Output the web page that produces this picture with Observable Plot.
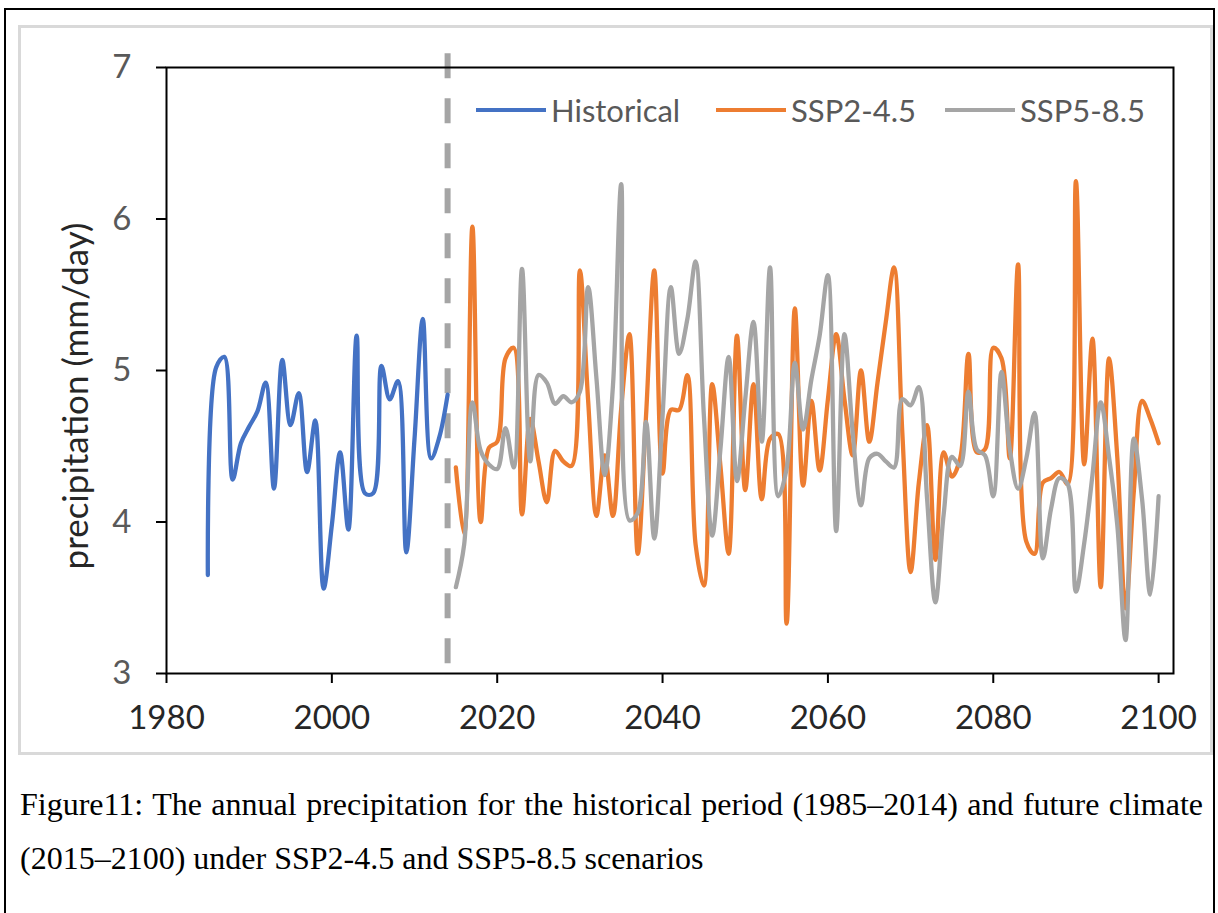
<!DOCTYPE html>
<html>
<head>
<meta charset="utf-8">
<script src="https://cdn.jsdelivr.net/npm/d3@7"></script>
<script src="https://cdn.jsdelivr.net/npm/@observablehq/plot@0.6"></script>
<style>
  body { margin: 0; background: #fff; width: 1218px; height: 913px; overflow: hidden; position: relative; font-family: Lato, "Open Sans", sans-serif; }
  #outer { position: absolute; left: 4px; top: 8px; width: 1207px; height: 1000px; border: 2px solid #000; }
  #box { position: absolute; left: 18px; top: 25px; width: 1189px; height: 724px; border: 3px solid #d9d9d9; }
  #chart { position: absolute; left: 0; top: 0; }
  #chart svg { overflow: visible; background: transparent; }
  #ytitle { position: absolute; left: 74px; top: 396px; transform: translate(-50%, -50%) rotate(-90deg); white-space: nowrap; font-size: 35px; color: #262626; }
  .item { position: absolute; top: 92px; height: 36px; display: flex; align-items: center; font-size: 31px; color: #595959; white-space: nowrap; }
  .swatch { width: 70px; height: 4px; margin-right: 5px; }
  .caption { position: absolute; left: 20px; width: 1183px; font-family: "Liberation Serif", "Times New Roman", serif; font-size: 32px; line-height: 54px; color: #000; }
  #cap1 { top: 777px; text-align: justify; text-align-last: justify; }
  #cap2 { top: 831px; }
</style>
</head>
<body>
<div id="outer"></div>
<div id="box"></div>
<div id="chart"></div>
<div id="ytitle">precipitation (mm/day)</div>
<div id="legend"></div>
<div class="caption" id="cap1">Figure11: The annual precipitation for the historical period (1985–2014) and future climate</div>
<div class="caption" id="cap2">(2015–2100) under SSP2-4.5 and SSP5-8.5 scenarios</div>
<script>
// Annual precipitation (mm/day)
const histYears = d3.range(1985, 2015);
const futureYears = d3.range(2015, 2101);

const historical = [
  3.65, 5.02, 5.09, 4.28, 4.52, 4.63, 4.73, 4.92, 4.22, 5.07,
  4.64, 4.85, 4.33, 4.67, 3.56, 3.98, 4.46, 3.95, 5.23, 4.19,
  4.19, 5.03, 4.81, 4.93, 3.80, 4.55, 5.34, 4.42, 4.56, 4.84
];

const ssp245 = [
  4.36, 3.92, 5.95, 4.00, 4.49, 4.53, 5.08, 5.15, 4.05, 4.68,
  4.40, 4.13, 4.47, 4.40, 4.37, 5.66, 4.80, 4.04, 4.44, 4.04,
  4.75, 5.24, 3.79, 4.70, 5.66, 4.32, 4.74, 4.74, 4.97, 3.85,
  3.58, 4.91, 4.37, 3.79, 5.23, 4.21, 4.91, 4.15, 4.55, 4.58,
  3.33, 5.41, 4.24, 4.80, 4.34, 4.81, 5.24, 4.81, 4.44, 5.00,
  4.53, 4.92, 5.32, 5.68, 4.59, 3.67, 4.26, 4.64, 3.75, 4.46,
  4.30, 4.42, 5.11, 4.46, 4.48, 5.15, 5.08, 4.42, 5.70, 3.87,
  3.79, 4.26, 4.29, 4.33, 4.25, 6.25, 4.38, 5.21, 3.57, 5.08,
  4.43, 3.43, 4.20, 4.80, 4.68, 4.52
];

const ssp585 = [
  3.57, 3.85, 4.79, 4.47, 4.38, 4.35, 4.62, 4.36, 5.67, 4.40,
  4.97, 4.92, 4.78, 4.83, 4.79, 4.86, 5.55, 4.95, 4.31, 4.90,
  6.23, 4.01, 4.06, 4.66, 3.89, 4.70, 5.55, 5.11, 5.34, 5.72,
  4.70, 3.91, 4.48, 5.09, 4.27, 4.81, 5.32, 4.53, 5.68, 4.17,
  4.35, 5.05, 4.61, 4.94, 5.23, 5.63, 3.94, 5.24, 4.59, 4.11,
  4.42, 4.45, 4.40, 4.36, 4.81, 4.77, 4.89, 4.15, 3.47, 4.05,
  4.43, 4.37, 4.86, 4.48, 4.44, 4.17, 4.99, 4.48, 4.22, 4.42,
  4.72, 3.76, 4.09, 4.29, 4.25, 3.54, 3.86, 4.31, 4.79, 4.43,
  3.98, 3.22, 4.55, 4.15, 3.52, 4.17
];

const seriesNames = ["Historical", "SSP2-4.5", "SSP5-8.5"];
const seriesColors = ["#4472C4", "#ED7D31", "#A5A5A5"];
const yTicks = [3, 4, 5, 6, 7];
const xTicks = [1980, 2000, 2020, 2040, 2060, 2080, 2100];
const lastHistoricalYear = 2014;

const rows = [
  ...histYears.map((year, i) => ({year, value: historical[i], series: seriesNames[0]})),
  ...futureYears.map((year, i) => ({year, value: ssp245[i], series: seriesNames[1]})),
  ...futureYears.map((year, i) => ({year, value: ssp585[i], series: seriesNames[2]}))
];

const chart = Plot.plot({
  width: 1218,
  height: 760,
  marginLeft: 166,
  marginRight: 45,
  marginTop: 67,
  marginBottom: 87,
  style: {fontFamily: "Lato, 'Open Sans', sans-serif", background: "transparent"},
  x: {domain: [1980, 2101.8]},
  y: {domain: [3, 7]},
  color: {domain: seriesNames, range: seriesColors},
  marks: [
    // boundary between the historical and scenario periods
    Plot.ruleX([lastHistoricalYear], {y1: 7.09, y2: 3, stroke: "#A5A5A5", strokeWidth: 6, strokeDasharray: "25,20", clip: false}),
    Plot.lineY(rows, {x: "year", y: "value", z: "series", stroke: "series", curve: "catmull-rom", strokeWidth: 4.3, strokeLinejoin: "round", strokeLinecap: "round"}),
    Plot.frame({stroke: "#000", strokeWidth: 2}),
    Plot.axisY({ticks: yTicks, tickFormat: d => String(d), tickSize: 10, tickPadding: 25, strokeWidth: 2, stroke: "#000", fill: "#595959", fontSize: 33, label: null}),
    Plot.axisX({ticks: xTicks, tickFormat: d => String(d), tickSize: 10, tickPadding: 22, strokeWidth: 2, stroke: "#000", fill: "#262626", fontSize: 33, label: null})
  ]
});
document.getElementById("chart").appendChild(chart);

// legend entries
const legendLeft = [476, 716, 945];
const legend = document.getElementById("legend");
seriesNames.forEach((name, i) => {
  const item = document.createElement("div");
  item.className = "item";
  item.style.left = legendLeft[i] + "px";
  const sw = document.createElement("div");
  sw.className = "swatch";
  sw.style.background = seriesColors[i];
  item.appendChild(sw);
  const label = document.createElement("span");
  label.textContent = name;
  item.appendChild(label);
  legend.appendChild(item);
});
</script>
</body>
</html>
